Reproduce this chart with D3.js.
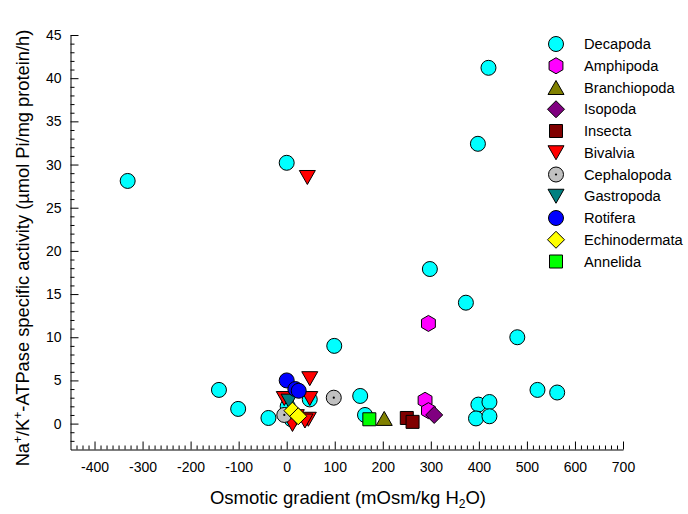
<!DOCTYPE html>
<html>
<head>
<meta charset="utf-8">
<script src="https://cdn.jsdelivr.net/npm/d3@7"></script>
<style>
  body { margin: 0; background: #fff; }
  svg { display: block; font-family: Arial, "Liberation Sans", sans-serif; }
</style>
</head>
<body>
<svg id="chart" width="688" height="514"></svg>
<script>
// ---------------- DATA ----------------
const seriesNames = ["Decapoda", "Amphipoda", "Branchiopoda", "Isopoda", "Insecta", "Bivalvia",
  "Cephalopoda", "Gastropoda", "Rotifera", "Echinodermata", "Annelida"];

const decapoda = [[-331, 28.1], [0, 30.2], [420, 41.2], [398, 32.4], [298, 17.9], [373, 14.0],
  [480, 10.0], [99, 9.0], [-141, 3.9], [-101, 1.7], [-38, 0.65], [153, 3.2], [163, 1.0],
  [522, 3.9], [563, 3.6], [399, 2.2], [422, 2.5], [394, 0.6], [422, 0.85], [48, 2.8],
  [2, 2.0], [10, 0.5]];
const amphipoda = [[295, 11.6], [288, 2.7], [295, 1.5]];
const branchiopoda = [[203, 0.6]];
const isopoda = [[307, 1.0]];
const insecta = [[250, 0.65], [262, 0.2]];
const bivalvia = [[43, 28.5], [48, 5.2], [-5, 2.9], [48, 2.9], [12, -0.1], [45, 0.5], [38, 0.3], [20, 0.8]];
const cephalopoda = [[98, 3.0], [-5, 1.0]];
const gastropoda = [[5, 2.6]];
const rotifera = [[0, 5.0], [18, 4.0], [25, 3.8]];
const echinodermata = [[12, 1.5], [24, 0.85]];
const annelida = [[172, 0.5]];

const xMajorTicks = [-400, -300, -200, -100, 0, 100, 200, 300, 400, 500, 600, 700];
const yMajorTicks = [0, 5, 10, 15, 20, 25, 30, 35, 40, 45];

// ---------------- STYLE ----------------
const seriesData = [decapoda, amphipoda, branchiopoda, isopoda, insecta, bivalvia,
  cephalopoda, gastropoda, rotifera, echinodermata, annelida];
const seriesColor = ["#00FFFF", "#FF00FF", "#808000", "#800080", "#800000", "#FF0000",
  "#C0C0C0", "#008080", "#0000FF", "#FFFF00", "#00FF00"];
const seriesShape = ["circle", "hexagon", "triUp", "diamond", "square", "triDown",
  "circleDot", "triDown", "circle", "diamond", "square"];

function shapePath(shape) {
  const p = d3.path();
  if (shape === "circle" || shape === "circleDot") {
    p.arc(0, 0, 7.5, 0, 2 * Math.PI);
  } else if (shape === "hexagon") {
    for (let i = 0; i < 6; i++) {
      const a = Math.PI / 6 + i * Math.PI / 3;
      const px = 8 * Math.cos(a), py = 8 * Math.sin(a);
      if (i === 0) p.moveTo(px, py); else p.lineTo(px, py);
    }
    p.closePath();
  } else if (shape === "triUp") {
    p.moveTo(0, -7); p.lineTo(8, 7); p.lineTo(-8, 7); p.closePath();
  } else if (shape === "triDown") {
    p.moveTo(0, 7); p.lineTo(8, -7); p.lineTo(-8, -7); p.closePath();
  } else if (shape === "diamond") {
    p.moveTo(0, -8.5); p.lineTo(8.5, 0); p.lineTo(0, 8.5); p.lineTo(-8.5, 0); p.closePath();
  } else if (shape === "square") {
    p.rect(-6.5, -6.5, 13, 13);
  }
  return p.toString();
}

function drawSymbol(g, shape, color) {
  g.append("path").attr("d", shapePath(shape))
    .attr("fill", color).attr("stroke", "#000").attr("stroke-width", 1);
  if (shape === "circleDot") {
    g.append("circle").attr("r", 1.1).attr("fill", "#000");
  }
}

// ---------------- CHART ----------------
const svg = d3.select("#chart");
svg.append("rect").attr("width", 688).attr("height", 514).attr("fill", "#fff");

const x = d3.scaleLinear().domain([-450, 700]).range([70.5, 623]);
const y = d3.scaleLinear().domain([-3, 45]).range([449.5, 35]);

const xMinor = d3.range(-450, 700.01, 12.5).filter(v => !xMajorTicks.includes(v) && v > -450);
const yMinor = d3.range(-3, 45.01, 1).filter(v => !yMajorTicks.includes(v) && v > -3);
const fmt = d => String(d);

// X axis
const xAxisG = svg.append("g").attr("transform", `translate(0,${y(-3)})`);
xAxisG.call(d3.axisBottom(x).tickValues(xMajorTicks).tickSizeInner(-8).tickSizeOuter(0).tickPadding(13)
  .tickFormat(fmt));
xAxisG.append("g").call(d3.axisBottom(x).tickValues(xMinor).tickSizeInner(-4).tickSizeOuter(0).tickFormat(""))
  .select(".domain").remove();
xAxisG.selectAll("text").attr("font-size", 14).attr("fill", "#000").attr("font-family", "Arial, 'Liberation Sans', sans-serif");
xAxisG.selectAll("path,line").attr("stroke", "#000");

// Y axis
const yAxisG = svg.append("g").attr("transform", `translate(${x(-450)},0)`);
yAxisG.call(d3.axisLeft(y).tickValues(yMajorTicks).tickSizeInner(-8).tickSizeOuter(0).tickPadding(9)
  .tickFormat(fmt));
yAxisG.append("g").call(d3.axisLeft(y).tickValues(yMinor).tickSizeInner(-4).tickSizeOuter(0).tickFormat(""))
  .select(".domain").remove();
yAxisG.selectAll("text").attr("font-size", 14).attr("fill", "#000").attr("font-family", "Arial, 'Liberation Sans', sans-serif");
yAxisG.selectAll("path,line").attr("stroke", "#000");

// Points
seriesData.forEach((data, i) => {
  const g = svg.append("g");
  data.forEach(d => {
    const sg = g.append("g").attr("transform", `translate(${x(d[0])},${y(d[1])})`);
    drawSymbol(sg, seriesShape[i], seriesColor[i]);
  });
});

// Axis titles
const xt = svg.append("text").attr("x", 348).attr("y", 504).attr("text-anchor", "middle")
  .attr("font-size", 18.5).attr("fill", "#000");
xt.append("tspan").text("Osmotic gradient (mOsm/kg H");
xt.append("tspan").attr("font-size", 12).attr("dy", 4).text("2");
xt.append("tspan").attr("dy", -4).text("O)");

const yt = svg.append("text").attr("transform", "translate(29,248) rotate(-90)").attr("text-anchor", "middle")
  .attr("font-size", 18.3).attr("fill", "#000");
yt.append("tspan").text("Na");
yt.append("tspan").attr("font-size", 12).attr("dy", -7).text("+");
yt.append("tspan").attr("dy", 7).text("/K");
yt.append("tspan").attr("font-size", 12).attr("dy", -7).text("+");
yt.append("tspan").attr("dy", 7).text("-ATPase specific activity (\u00B5mol Pi/mg protein/h)");

// Legend
const legend = svg.append("g");
seriesNames.forEach((name, i) => {
  const ly = 44 + i * 21.75;
  const sg = legend.append("g").attr("transform", `translate(556,${ly})`);
  drawSymbol(sg, seriesShape[i], seriesColor[i]);
  legend.append("text").attr("x", 584).attr("y", ly).attr("dy", "0.35em")
    .attr("font-size", 14.7).attr("fill", "#000").text(name);
});
</script>
</body>
</html>
